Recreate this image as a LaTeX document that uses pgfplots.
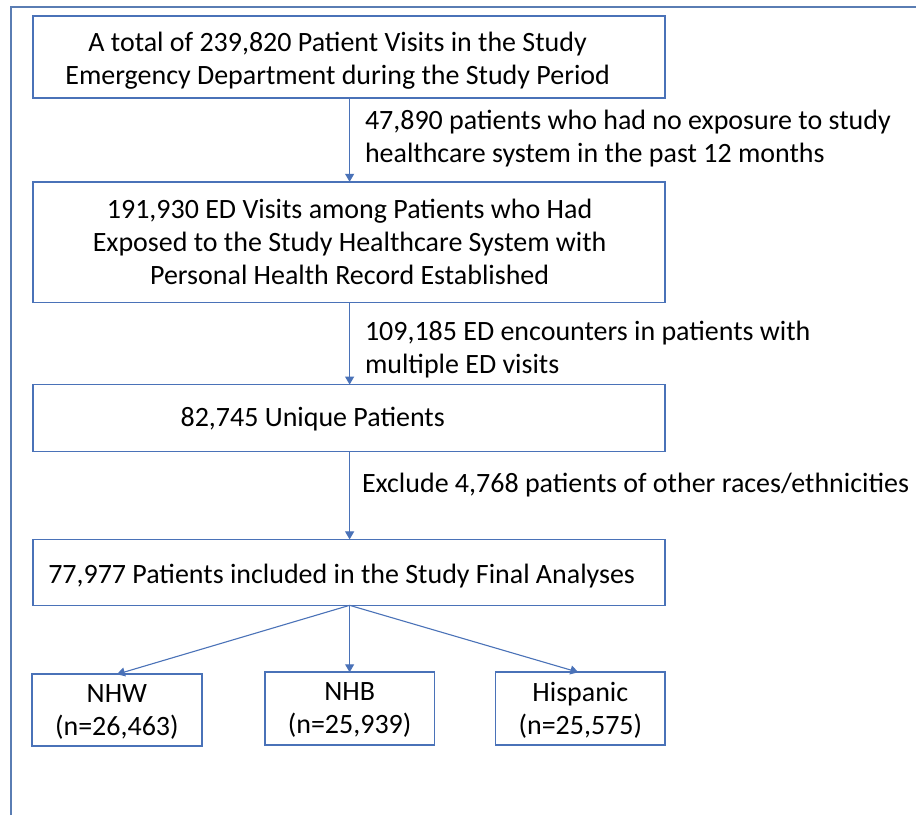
\documentclass[border=0pt]{standalone}
\usepackage{pgfplots}
\pgfplotsset{compat=1.18}
\usepackage{fontspec}
\setmainfont{Carlito}
\usetikzlibrary{arrows.meta}
\definecolor{boxblue}{HTML}{4A72B8}
\definecolor{frameblue}{HTML}{5A7DB3}
\begin{document}
\begin{tikzpicture}
\begin{axis}[
  x=0.5pt, y=0.5pt, y dir=reverse,
  xmin=0, xmax=917, ymin=0, ymax=816,
  hide axis, scale only axis,
  clip=false,
]
\path[fill=white] (axis cs:0,0) rectangle (axis cs:917,816);
% outer frame
\addplot[frameblue, line width=1pt, no marks] coordinates {(11,816) (11,7) (917,7)};
% boxes
\pgfplotsset{boxstyle/.style={boxblue, line width=0.8pt, no marks, line join=miter}}
\addplot[boxstyle] coordinates {(33,16) (666,16) (666,98) (33,98) (33,16) (666,16)};
\addplot[boxstyle] coordinates {(33,182) (666,182) (666,303) (33,303) (33,182) (666,182)};
\addplot[boxstyle] coordinates {(33,385) (666,385) (666,452) (33,452) (33,385) (666,385)};
\addplot[boxstyle] coordinates {(33,540) (666,540) (666,606) (33,606) (33,540) (666,540)};
\addplot[boxstyle] coordinates {(32,675) (202,675) (202,747) (32,747) (32,675) (202,675)};
\addplot[boxstyle] coordinates {(265,673) (435,673) (435,746) (265,746) (265,673) (435,673)};
\addplot[boxstyle] coordinates {(496,673) (666,673) (666,746) (496,746) (496,673) (666,673)};
% arrows
\pgfplotsset{arr/.style={boxblue, line width=0.55pt, no marks, -{Triangle[length=4pt,width=4.5pt]}}}
\addplot[arr] coordinates {(350,98) (350,182)};
\addplot[arr] coordinates {(350,303) (350,385)};
\addplot[arr] coordinates {(350,452) (350,540)};
\addplot[arr] coordinates {(350,606) (117,675)};
\addplot[arr] coordinates {(350,606) (350,673)};
\addplot[arr] coordinates {(350,606) (579,673)};
% texts
\tikzset{t/.style={font=\fontsize{14}{16.5}\selectfont, inner sep=0pt, text=black}}
\node[t, align=center] at (axis cs:338,61) {A total of 239,820 Patient Visits in the Study\\Emergency Department during the Study Period};
\node[t, align=center] at (axis cs:350,242) {191,930 ED Visits among Patients who Had\\Exposed to the Study Healthcare System with\\Personal Health Record Established};
\node[t] at (axis cs:313,420) {82,745 Unique Patients};
\node[t] at (axis cs:342,577) {77,977 Patients included in the Study Final Analyses};
\node[t, align=center] at (axis cs:117,713) {NHW\\(n=26,463)};
\node[t, align=center] at (axis cs:350,711) {NHB\\(n=25,939)};
\node[t, align=center] at (axis cs:581,711) {Hispanic\\(n=25,575)};
\node[t, align=left, anchor=west] at (axis cs:365,139) {47,890 patients who had no exposure to study\\healthcare system in the past 12 months};
\node[t, align=left, anchor=west] at (axis cs:365,350) {109,185 ED encounters in patients with\\multiple ED visits};
\node[t, align=left, anchor=west] at (axis cs:362,486) {Exclude 4,768 patients of other races/ethnicities};
\end{axis}
\end{tikzpicture}
\end{document}
